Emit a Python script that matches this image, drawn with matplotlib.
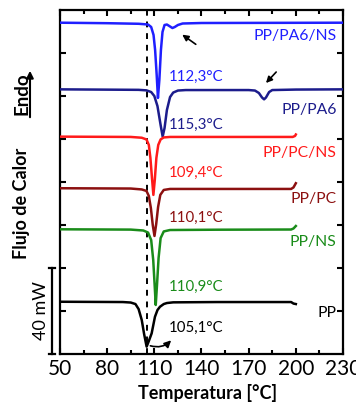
import matplotlib
matplotlib.use('Agg')
import matplotlib.pyplot as plt
import numpy as np

plt.rcParams['font.family'] = ['Lato', 'DejaVu Sans']

# DSC curves: temperature (°C) and heat flow relative to each baseline (mW)
t_pa6_ns = [50, 80, 100, 106, 108, 109.5, 110.5, 111.5, 112.3, 113.2, 114.2, 115.2, 116.5,
            118, 120, 121.5, 123, 125, 128, 140, 230]
q_pa6_ns = [0, -0.23, -0.5, -0.84, -2.0, -5.7, -12.7, -24.3, -35.0, -26.6, -12.7, -4.3, -1.07,
            -0.84, -1.77, -2.47, -2.0, -1.07, -0.37, -0.14, 0]

t_pa6 = [50, 100, 105, 108, 110, 112, 114, 115.3, 116.5, 118, 120, 122, 125, 130, 150, 170,
         174, 176.5, 178.5, 179.8, 181, 183, 185, 200, 230]
q_pa6 = [0, -0.23, -0.47, -1.26, -3.1, -7.8, -16.6, -22.0, -18.0, -9.6, -3.6, -1.5, -0.56, -0.33,
         -0.33, -0.33, -0.56, -1.7, -3.8, -4.65, -3.8, -1.26, -0.33, -0.1, 0]

t_pc_ns = [50, 95, 102, 105, 106.5, 107.5, 108.5, 109.4, 110.3, 111.3, 112.5, 114, 116, 120,
           150, 198, 199.5, 200]
q_pc_ns = [0, -0.14, -0.51, -1.3, -3.86, -9.9, -19.2, -27.1, -20.1, -9.9, -3.86, -1.3, -0.37,
           -0.14, -0.14, -0.14, 0.33, 1.0]

t_pc = [50, 95, 102, 105, 106.5, 107.8, 109, 110.1, 111.2, 112.4, 113.8, 116, 120, 150, 197,
        198.5, 200]
q_pc = [0, -0.14, -0.56, -1.26, -3.6, -9.2, -17.1, -22.2, -16.6, -8.7, -3.1, -0.79, -0.33,
        -0.33, -0.33, 0.37, 2.33]

t_ns = [50, 95, 103, 106, 108, 109.3, 110.2, 110.9, 111.7, 112.7, 114, 116, 120, 150, 197,
        198.5, 200]
q_ns = [0, -0.14, -0.56, -1.5, -5.0, -14.3, -25.9, -35.2, -25.9, -13.4, -4.1, -1.0, -0.33,
        -0.19, -0.1, 0.37, 1.53]

t_pp = [50, 90, 95, 98, 100, 102, 103.5, 105.1, 106.5, 108.3, 110.4, 112, 113.6, 116, 118,
        122, 150, 197, 198.5, 200]
q_pp = [0, -0.14, -0.37, -1.07, -3.4, -8.5, -15.0, -20.9, -18.3, -14.7, -7.0, -3.86, -2.33,
        -1.07, -0.6, -0.28, -0.14, -0.14, -0.84, -1.07]

names = ['PP/PA6/NS', 'PP/PA6', 'PP/PC/NS', 'PP/PC', 'PP/NS', 'PP']
peak_labels = ['112,3°C', '115,3°C', '109,4°C', '110,1°C', '110,9°C', '105,1°C']
baselines = [154.1, 123.1, 101.1, 77.1, 58.0, 24.3]
colors = ['#1f1fff', '#1c1c8c', '#ff1a1a', '#8c1010', '#1a8c1a', 'black']
curves = [(t_pa6_ns, q_pa6_ns), (t_pa6, q_pa6), (t_pc_ns, q_pc_ns),
          (t_pc, q_pc), (t_ns, q_ns), (t_pp, q_pp)]

# label positions (mW)
peak_label_y = [128.8, 106.5, 84.2, 63.3, 31.2, 12.1]
name_label_y = [147.9, 113.5, 93.5, 72.1, 52.1, 19.1]

fig = plt.figure(figsize=(3.56, 4.04), dpi=100)
ax = fig.add_axes([0.1685, 0.1238, 0.795, 0.8514])

ax.axvline(105.1, color='black', ls=(0, (3, 3)), lw=1.4, zorder=1)

for (t, q), base, c, name, pl, py, ny in zip(curves, baselines, colors, names,
                                               peak_labels, peak_label_y, name_label_y):
    ax.plot(t, np.array(q) + base, color=c, lw=1.8, zorder=3)
    ax.text(119, py, pl, color=c, fontsize=10.8, ha='left', va='center')
    ax.text(226, ny, name, color=c, fontsize=11.3, ha='right', va='center')

# arrows marking small peaks
arw = dict(arrowstyle='-|>', color='black', lw=1.2, mutation_scale=9)
ax.annotate('', xy=(126.3, 149.3), xytext=(137.8, 143.3), arrowprops=arw)
ax.annotate('', xy=(179.8, 125.1), xytext=(188.7, 132.1), arrowprops=arw)
ax.annotate('', xy=(121.9, 7.3), xytext=(105.8, 4.2),
            arrowprops=dict(arrowstyle='-|>', color='black', lw=1.2, mutation_scale=10,
                            connectionstyle='arc3,rad=0.35'))

ax.set_xlim(50, 230)
ax.set_ylim(0, 160)
ax.set_xticks([50, 80, 110, 140, 170, 200, 230])
ax.set_xticks([65, 95, 125, 155, 185, 215], minor=True)
ax.set_yticks([20, 40, 60, 80, 100, 120, 140])
ax.set_yticklabels([])
ax.tick_params(which='both', direction='in', top=True, right=True, width=1.5, labelsize=15)
ax.tick_params(which='major', length=4)
ax.tick_params(which='minor', length=3)
for s in ax.spines.values():
    s.set_linewidth(1.6)

ax.set_xlabel('Temperatura [°C]', fontsize=13, fontweight='bold')
ax.xaxis.set_label_coords(0.523, -0.113)
ax.xaxis.label.set_va('center')

# scale bar 40 mW
ax.plot([44.9, 44.9], [0, 40], color='black', lw=1.6, clip_on=False)
ax.plot([43, 47], [0, 0], color='black', lw=1.6, clip_on=False)
ax.plot([43, 47], [40, 40], color='black', lw=1.6, clip_on=False)
ax.text(37.9, 20, '40 mW', rotation=90, fontsize=13, ha='center', va='center')

fig.text(22 / 356, 1 - 203 / 404, 'Flujo de Calor', rotation=90, fontsize=13,
         fontweight='bold', ha='center', va='center')
fig.text(22 / 356, 1 - 94 / 404, 'Endo', rotation=90, fontsize=13.5,
         fontweight='bold', ha='center', va='center')
ax.annotate('', xy=(30 / 356, 1 - 68 / 404), xytext=(30 / 356, 1 - 120 / 404),
            xycoords='figure fraction', textcoords='figure fraction',
            arrowprops=dict(arrowstyle='-|>', color='black', lw=1.5, mutation_scale=10))

fig.savefig('out.png', dpi=100)
